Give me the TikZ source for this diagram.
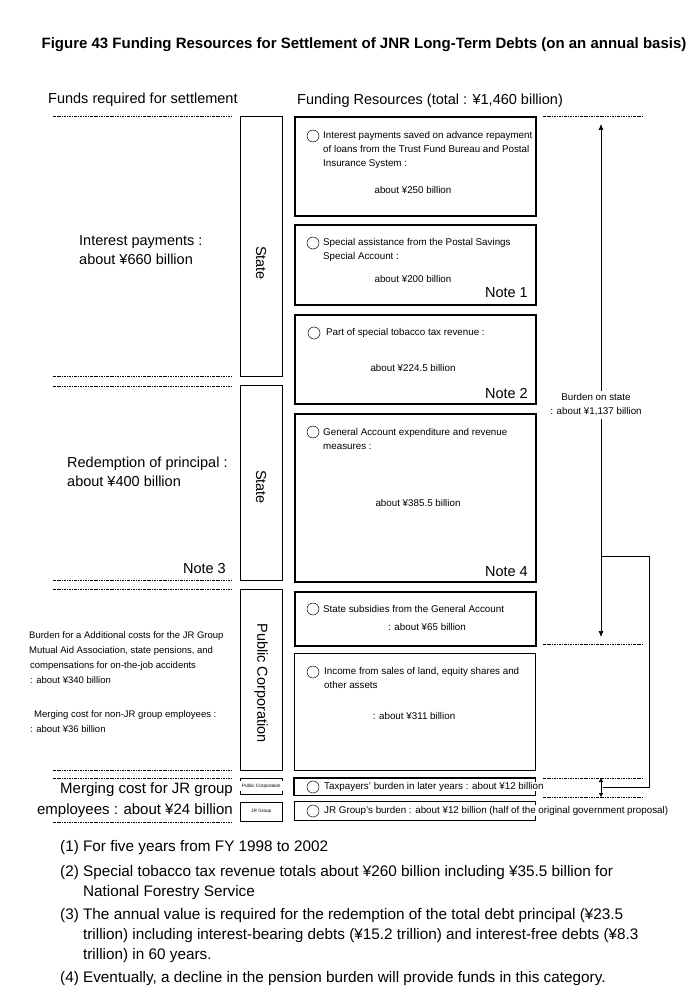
\documentclass[tikz,border=0pt]{standalone}
\usepackage{fontspec}
\setmainfont{Liberation Sans}
\usepackage{tikz}
\usetikzlibrary{arrows.meta,positioning,calc}

\newcommand{\fntitle}{\fontsize{15}{17}\selectfont\bfseries}
\newcommand{\fnmain}{\fontsize{14.5}{19}\selectfont}
\newcommand{\fnnotes}{\fontsize{15.3}{20}\selectfont}
\newcommand{\fnjr}{\fontsize{15}{21}\selectfont}
\newcommand{\fnbox}{\fontsize{9.8}{14}\selectfont}
\newcommand{\fnleft}{\fontsize{9.5}{15.3}\selectfont}
\newcommand{\fntiny}{\fontsize{4.7}{6}\selectfont}

\begin{document}
\begin{tikzpicture}[x=1pt, y=-1pt, inner sep=0pt,
  fund/.style={draw, line width=1.6pt, minimum width=241pt, anchor=north west},
  col/.style={draw, line width=0.7pt, minimum width=42pt, anchor=north west},
  dline/.style={line width=0.6pt, dash pattern=on 2.5pt off 1pt on 0.8pt off 1pt},
  ring/.style={draw, circle, minimum size=12pt, line width=0.5pt},
  btxt/.style={font=\fnbox, align=left, anchor=north west},
  arr/.style={-{Latex[length=6pt,width=5pt]}, line width=0.7pt}]
  \useasboundingbox (0,0) rectangle (700,1000);

  % title and headings
  \node[font=\fntitle] (title) at (364,45) {Figure 43 Funding Resources for Settlement of JNR Long-Term Debts (on an annual basis)};
  \node[font=\fnmain, anchor=west] (hreq) at (48,100) {Funds required for settlement};
  \node[font=\fnmain, anchor=west] (hres) at (297,101) {Funding Resources (total : ¥1,460 billion)};

  % dashed separators
  \foreach \yy in {116,376,386,580,589,770,778,822}
    \draw[dline] (53,\yy) -- (233,\yy);
  \foreach \yy in {116,644,778,797}
    \draw[dline] (543,\yy) -- (643,\yy);

  % funds required
  \node[font=\fnmain, align=left, anchor=north west] (interest) at (79,235.5) {Interest payments :\\about ¥660 billion};
  \node[font=\fnmain, align=left, anchor=north west] (redemp) at (67,456.5) {Redemption of principal :\\about ¥400 billion};
  \node[font=\fnmain, anchor=east] (note3) at (226,569) {Note 3};
  \node[font=\fnleft, align=left, anchor=north west] (addcost) at (29,631) {Burden for a Additional costs for the JR Group\\Mutual Aid Association, state pensions, and\\\hspace*{1pt}compensations for on-the-job accidents\\\hspace*{1pt}: about ¥340 billion};
  \node[font=\fnleft, align=left, anchor=north west] (nonjr) at (30,710) {\hspace*{4pt}Merging cost for non-JR group employees :\\: about ¥36 billion};
  \node[font=\fnjr, align=right, anchor=north east] (jrmerge) at (233,782) {Merging cost for JR group\\employees : about ¥24 billion};

  % bearer columns
  \node[col, minimum height=260pt] (st1) at (240,116) {};
  \node[col, minimum height=195pt] (st2) at (240,385) {};
  \node[col, minimum height=181pt] (pc) at (240,589) {};
  \node[font=\fnmain, rotate=-90] (st1l) at (261,263) {State};
  \node[font=\fnmain, rotate=-90] (st2l) at (261,487) {State};
  \node[font=\fnmain, rotate=-90] (pcl) at (261,683) {Public Corporation};
  \node[minimum width=42pt, minimum height=16pt, anchor=north west, font=\fntiny] (pcs) at (240,778) {Public Corporation};
  \draw[line width=0.6pt] ($(pcs.north west)+(0,3)$) -- (pcs.north west) -- (pcs.north east) -- ++(0,3);
  \draw[line width=0.6pt] ($(pcs.south west)+(0,-3)$) -- (pcs.south west) -- (pcs.south east) -- ++(0,-3);
  \node[col, line width=0.6pt, minimum height=19pt, font=\fntiny] (jrg) at (240,802) {JR Group};

  % funding resources
  \node[fund, minimum height=99pt] (b1) at (294,116) {};
  \node[ring] (r1) at (313,136) {};
  \node[btxt] (t1) at (323,131) {Interest payments saved on advance repayment\\of loans from the Trust Fund Bureau and Postal\\Insurance System :};
  \node[font=\fnbox] (v1) at (413,190) {about ¥250 billion};

  \node[fund, minimum height=80pt] (b2) at (294,224) {};
  \node[ring] (r2) at (313,243) {};
  \node[btxt] (t2) at (323,238) {Special assistance from the Postal Savings\\Special Account :};
  \node[font=\fnbox] (v2) at (413,279) {about ¥200 billion};
  \node[font=\fnmain, anchor=east] (note1) at (528,293) {Note 1};

  \node[fund, minimum height=89pt] (b3) at (294,314) {};
  \node[ring] (r3) at (314,333) {};
  \node[btxt] (t3) at (326,328) {Part of special tobacco tax revenue :};
  \node[font=\fnbox] (v3) at (413,368) {about ¥224.5 billion};
  \node[font=\fnmain, anchor=east] (note2) at (528,394) {Note 2};

  \node[fund, minimum height=168pt] (b4) at (294,413) {};
  \node[ring] (r4) at (313,432) {};
  \node[btxt] (t4) at (323,428) {General Account expenditure and revenue\\measures :};
  \node[font=\fnbox] (v4) at (418,503) {about ¥385.5 billion};
  \node[font=\fnmain, anchor=east] (note4) at (528,572) {Note 4};

  \node[fund, minimum height=54pt] (b5) at (294,591) {};
  \node[ring] (r5) at (313,609) {};
  \node[btxt] (t5) at (323,605) {State subsidies from the General Account};
  \node[font=\fnbox] (v5) at (427,627) {: about ¥65 billion};

  \node[fund, line width=0.8pt, minimum height=117pt] (b6) at (294,653) {};
  \node[ring] (r6) at (313,672) {};
  \node[btxt] (t6) at (324,667) {Income from sales of land, equity shares and\\other assets};
  \node[font=\fnbox] (v6) at (414,716) {: about ¥311 billion};

  \node[minimum width=241pt, minimum height=17pt, anchor=north west] (b7) at (294,778) {};
  \draw[line width=1.4pt] ($(b7.north east)+(0,4)$) -- (b7.north east) -- (b7.north west) -- (b7.south west) -- (b7.south east) -- ++(0,-4);
  \node[ring] (r7) at (313,787) {};
  \node[font=\fnbox, anchor=west] (t7) at (324,787) {Taxpayers' burden in later years : about ¥12 billion};

  \node[minimum width=241pt, minimum height=19pt, anchor=north west] (b8) at (294,801) {};
  \draw[line width=0.8pt] ($(b8.north east)+(0,4)$) -- (b8.north east) -- (b8.north west) -- (b8.south west) -- (b8.south east) -- ++(0,-4);
  \node[ring] (r8) at (313,811) {};
  \node[font=\fnbox, anchor=west] (t8) at (324,811) {JR Group's burden : about ¥12 billion (half of the original government proposal)};

  % burden on state
  \node[font=\fnbox, align=center] (burden) at (596,405) {Burden on state\\: about ¥1,137 billion};
  \coordinate (uptop) at (601,124);
  \coordinate (dnbot) at (601,637);
  \coordinate (brk) at (601,556);
  \coordinate (dtop) at (601,778);
  \coordinate (dbot) at (601,797);
  \coordinate (dmid) at (603,787);
  \draw[arr, shorten <=3pt] (burden.north -| uptop) -- (uptop);
  \draw[arr, shorten <=3pt] (burden.south -| dnbot) -- (dnbot);
  \draw[line width=0.7pt] (brk) -- ++(48,0) |- (dmid);
  \draw[{Latex[length=4pt,width=5pt]}-{Latex[length=4pt,width=5pt]}, line width=0.7pt] (dtop) -- (dbot);

  % notes
  \node[font=\fnnotes, anchor=north west] (n1) at (60,840.5) {(1) For five years from FY 1998 to 2002};
  \node[font=\fnnotes, align=left, anchor=north west] (n2) at (60,865.5) {(2) Special tobacco tax revenue totals about ¥260 billion including ¥35.5 billion for\\\phantom{(2) }National Forestry Service};
  \node[font=\fnnotes, align=left, anchor=north west] (n3) at (60,908.5) {(3) The annual value is required for the redemption of the total debt principal (¥23.5\\\phantom{(3) }trillion) including interest-bearing debts (¥15.2 trillion) and interest-free debts (¥8.3\\\phantom{(3) }trillion) in 60 years.};
  \node[font=\fnnotes, anchor=north west] (n4) at (60,971.5) {(4) Eventually, a decline in the pension burden will provide funds in this category.};
\end{tikzpicture}
\end{document}
